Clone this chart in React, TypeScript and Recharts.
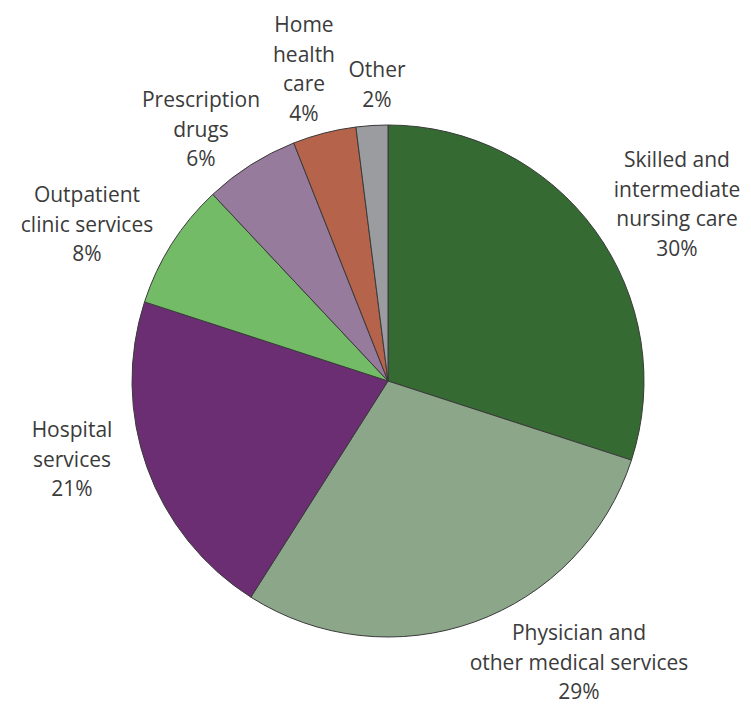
import React from "react";
import { PieChart, Pie, Cell } from "recharts";

const CATEGORIES = [
  "Skilled and intermediate nursing care",
  "Physician and other medical services",
  "Hospital services",
  "Outpatient clinic services",
  "Prescription drugs",
  "Home health care",
  "Other",
];
const VALUES = [30, 29, 21, 8, 6, 4, 2];
const LABEL_LINES = [
  ["Skilled and", "intermediate", "nursing care"],
  ["Physician and", "other medical services"],
  ["Hospital", "services"],
  ["Outpatient", "clinic services"],
  ["Prescription", "drugs"],
  ["Home", "health", "care"],
  ["Other"],
];
const COLORS = ["#356a33", "#8ba689", "#6c2e73", "#73bb66", "#967b9c", "#b5634a", "#9b9ca0"];

// label anchor offsets relative to pie centre (layout only)
const LABEL_OFFSETS = [
  { dx: 289, dy: -214 },
  { dx: 191, dy: 259 },
  { dx: -316, dy: 56 },
  { dx: -301, dy: -179 },
  { dx: -187, dy: -274 },
  { dx: -84, dy: -349 },
  { dx: -11, dy: -304 },
];

const data = CATEGORIES.map((name, i) => ({ name, value: VALUES[i] }));

const LINE_H = 29.7;

const renderLabel = (props: any) => {
  const { cx, cy, index, value } = props;
  const off = LABEL_OFFSETS[index];
  const x = cx + off.dx;
  const y = cy + off.dy;
  const lines = [...LABEL_LINES[index], `${value}%`];
  return (
    <text
      key={`lbl-${index}`}
      x={x}
      y={y}
      textAnchor="middle"
      fill="#3b3b3b"
      fontFamily="'Open Sans', sans-serif"
      fontSize={21}
    >
      {lines.map((l, j) => (
        <tspan key={j} x={x} y={y + j * LINE_H}>
          {l}
        </tspan>
      ))}
    </text>
  );
};

export default function App() {
  return (
    <div style={{ position: "absolute", left: 0, top: 0, width: 751, height: 705, background: "#fff" }}>
      <PieChart width={751} height={705} margin={{ top: 0, right: 0, bottom: 0, left: 0 }}>
        <Pie
          data={data}
          dataKey="value"
          nameKey="name"
          cx={388}
          cy={381}
          outerRadius={256}
          startAngle={90}
          endAngle={-270}
          stroke="#3a3a3a"
          strokeWidth={1}
          label={renderLabel}
          labelLine={false}
          isAnimationActive={false}
        >
          {data.map((d, i) => (
            <Cell key={d.name} fill={COLORS[i]} />
          ))}
        </Pie>
      </PieChart>
    </div>
  );
}
